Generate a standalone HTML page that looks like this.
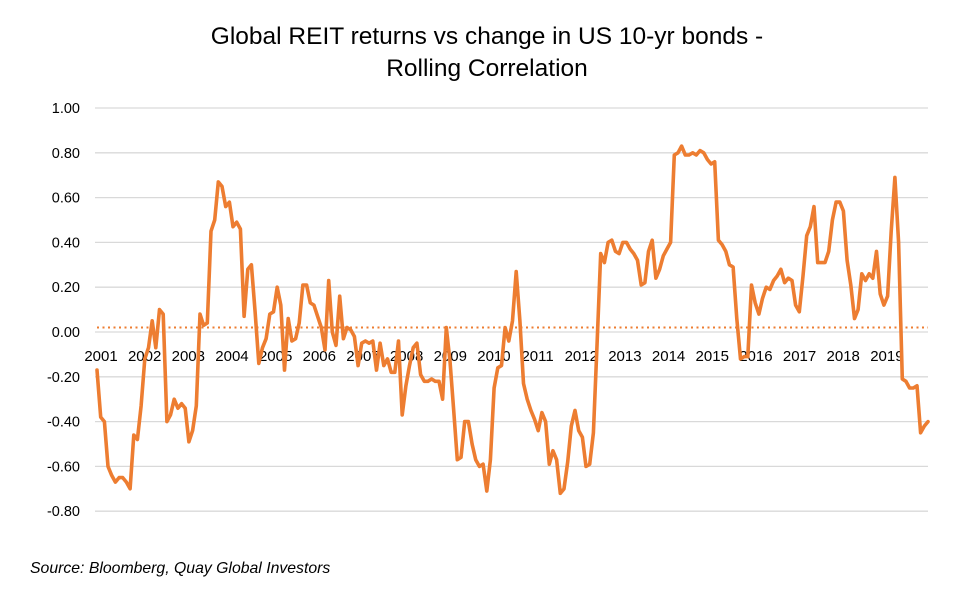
<!DOCTYPE html>
<html><head><meta charset="utf-8"><style>
body{margin:0;background:#fff;font-family:"Liberation Sans",sans-serif;}
svg text{font-family:"Liberation Sans",sans-serif;}
</style></head><body>
<svg id="chart" width="973" height="602" viewBox="0 0 973 602">
<g>
<text x="487" y="44" text-anchor="middle" font-size="24.5" fill="#000">Global REIT returns vs change in US 10-yr bonds -</text>
<text x="487" y="76" text-anchor="middle" font-size="24.5" fill="#000">Rolling Correlation</text>
</g>
<g id="grid"></g>
<g id="yaxis"></g>
<g id="xaxis"></g>
<g id="series"></g>
<text x="30" y="573" font-size="15.8" font-style="italic" fill="#000">Source: Bloomberg, Quay Global Investors</text>
</svg>
<script>
const yTicks=[1.0,0.8,0.6,0.4,0.2,0.0,-0.2,-0.4,-0.6,-0.8];
const yTickLabels=["1.00","0.80","0.60","0.40","0.20","0.00","-0.20","-0.40","-0.60","-0.80"];
const years=["2001","2002","2003","2004","2005","2006","2007","2008","2009","2010","2011","2012","2013","2014","2015","2016","2017","2018","2019"];
const averageValue=0.02;
const correlation=[-0.17,-0.38,-0.40,-0.60,-0.64,-0.67,-0.65,-0.65,-0.67,-0.70,-0.46,-0.48,-0.33,-0.12,-0.07,0.05,-0.07,0.10,0.08,-0.40,-0.37,-0.30,-0.34,-0.32,-0.34,-0.49,-0.44,-0.33,0.08,0.03,0.04,0.45,0.50,0.67,0.65,0.56,0.58,0.47,0.49,0.46,0.07,0.28,0.30,0.09,-0.14,-0.07,-0.03,0.08,0.09,0.20,0.12,-0.17,0.06,-0.04,-0.03,0.04,0.21,0.21,0.13,0.12,0.07,0.02,-0.08,0.23,0.00,-0.06,0.16,-0.03,0.02,0.01,-0.02,-0.15,-0.05,-0.04,-0.05,-0.04,-0.17,-0.05,-0.15,-0.12,-0.18,-0.18,-0.04,-0.37,-0.24,-0.15,-0.07,-0.05,-0.19,-0.22,-0.22,-0.21,-0.22,-0.22,-0.30,0.02,-0.13,-0.35,-0.57,-0.56,-0.40,-0.40,-0.50,-0.57,-0.60,-0.59,-0.71,-0.57,-0.25,-0.16,-0.15,0.02,-0.04,0.05,0.27,0.05,-0.23,-0.30,-0.35,-0.39,-0.44,-0.36,-0.40,-0.59,-0.53,-0.57,-0.72,-0.70,-0.58,-0.42,-0.35,-0.44,-0.47,-0.60,-0.59,-0.45,-0.05,0.35,0.31,0.40,0.41,0.36,0.35,0.40,0.40,0.37,0.35,0.32,0.21,0.22,0.36,0.41,0.24,0.28,0.34,0.37,0.40,0.79,0.80,0.83,0.79,0.79,0.80,0.79,0.81,0.80,0.77,0.75,0.76,0.41,0.39,0.36,0.30,0.29,0.06,-0.12,-0.11,-0.11,0.21,0.13,0.08,0.15,0.20,0.19,0.23,0.25,0.28,0.22,0.24,0.23,0.12,0.09,0.25,0.43,0.47,0.56,0.31,0.31,0.31,0.36,0.50,0.58,0.58,0.54,0.32,0.21,0.06,0.10,0.26,0.23,0.26,0.24,0.36,0.17,0.12,0.16,0.45,0.69,0.40,-0.21,-0.22,-0.25,-0.25,-0.24,-0.45,-0.42,-0.40];

const NS="http://www.w3.org/2000/svg";
const X0=97,X1=928,gridX0=95;
const yScale=v=>332-v*224;
const xScale=i=>X0+i*(X1-X0)/(correlation.length-1);
const yearX=k=>101+k*43.66;
function mk(tag,attrs,parent){const e=document.createElementNS(NS,tag);for(const k in attrs)e.setAttribute(k,attrs[k]);parent.appendChild(e);return e;}
const grid=document.getElementById('grid'),ya=document.getElementById('yaxis'),xa=document.getElementById('xaxis'),se=document.getElementById('series');
yTicks.forEach((v,i)=>{
  const l=mk('line',{x1:gridX0,x2:X1,y1:yScale(v),y2:yScale(v),stroke:'#d9d9d9','stroke-width':1.3},grid);
  
  
  const t=mk('text',{x:80,y:yScale(v)+5,'text-anchor':'end','font-size':14.5,fill:'#000'},ya);
  t.textContent=yTickLabels[i];
  
  
});
years.forEach((y,k)=>{
  const t=mk('text',{x:yearX(k),y:361,'text-anchor':'middle','font-size':15,fill:'#000'},xa);
  t.textContent=y;
  
  
});
const avg=mk('line',{x1:X0,x2:X1,y1:yScale(averageValue),y2:yScale(averageValue),stroke:'#ED7D31','stroke-width':2,'stroke-dasharray':'2 3.5'},se);


const path=mk('polyline',{points:correlation.map((v,i)=>xScale(i).toFixed(1)+','+yScale(v).toFixed(1)).join(' '),fill:'none',stroke:'#ED7D31','stroke-width':3.6,'stroke-linejoin':'round','stroke-linecap':'round'},se);


</script>
</body></html>
